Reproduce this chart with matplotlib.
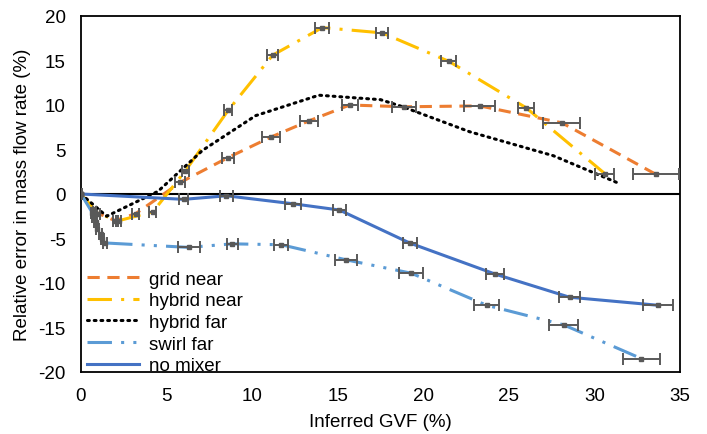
import matplotlib
matplotlib.use("Agg")
import matplotlib.pyplot as plt

plt.rcParams['font.family'] = ['Liberation Sans', 'DejaVu Sans']
plt.rcParams['axes.unicode_minus'] = False

# ---- data ----
grid_near_x = [0, 0.8, 2.0, 3.2, 5.8, 8.6, 11.1, 13.3, 15.7, 18.9, 23.3, 28.1, 33.6]
grid_near_y = [0, -2.0, -3.0, -2.2, 1.3, 4.1, 6.4, 8.2, 10.0, 9.8, 9.9, 8.0, 2.2]
grid_near_xerr = [0.05, 0.1, 0.15, 0.2, 0.3, 0.36, 0.5, 0.52, 0.47, 0.7, 0.9, 1.08, 1.35]

hybrid_near_x = [0, 1.0, 2.2, 4.2, 6.1, 8.6, 11.2, 14.1, 17.6, 21.5, 26.0, 30.6]
hybrid_near_y = [0, -2.2, -3.0, -2.0, 2.6, 9.4, 15.6, 18.7, 18.1, 14.9, 9.7, 2.3]
hybrid_near_xerr = [0.05, 0.1, 0.15, 0.2, 0.2, 0.25, 0.32, 0.41, 0.36, 0.44, 0.46, 0.55]

hybrid_far_x = [0, 1.5, 4.5, 7.1, 10.2, 13.9, 17.5, 18.8, 22.7, 27.6, 31.3]
hybrid_far_y = [0, -2.5, 0.3, 4.9, 8.8, 11.1, 10.6, 9.8, 7.0, 4.3, 1.3]

swirl_far_x = [0, 0.66, 0.76, 0.86, 0.95, 1.15, 1.25, 1.4, 6.3, 8.85, 11.7, 15.5, 19.3, 23.7, 28.2, 32.75]
swirl_far_y = [0, -2.1, -2.6, -3.2, -3.9, -4.5, -5.1, -5.5, -6.0, -5.6, -5.7, -7.4, -8.9, -12.5, -14.7, -18.5]
swirl_far_xerr = [0.05, 0.1, 0.1, 0.1, 0.1, 0.1, 0.1, 0.1, 0.63, 0.3, 0.4, 0.63, 0.69, 0.72, 0.86, 1.07]

no_mixer_x = [0, 6.0, 8.5, 12.4, 15.1, 19.2, 24.2, 28.55, 33.7]
no_mixer_y = [0, -0.6, -0.2, -1.1, -1.8, -5.5, -9.0, -11.6, -12.5]
no_mixer_xerr = [0.05, 0.25, 0.37, 0.47, 0.36, 0.41, 0.54, 0.61, 0.88]

x_ticks = [0, 5, 10, 15, 20, 25, 30, 35]
y_ticks = [-20, -15, -10, -5, 0, 5, 10, 15, 20]

# ---- plot ----
fig = plt.figure(figsize=(7.07, 4.35), dpi=100)
ax = fig.add_axes([81/707, 1-373/435, (680-81)/707, (373-17)/435])

lw = 2.2
ax.plot(grid_near_x, grid_near_y, color='#ED7D31', lw=lw, dashes=(4, 2.5), label='grid near', zorder=3)
ax.plot(hybrid_near_x, hybrid_near_y, color='#FFC000', lw=lw, dashes=(8, 3, 1, 3), label='hybrid near', zorder=3)
ax.plot(hybrid_far_x, hybrid_far_y, color='black', lw=lw, dashes=(0.6, 1.6), dash_capstyle='round',
        label='hybrid far', zorder=3)
ax.plot(swirl_far_x, swirl_far_y, color='#5B9BD5', lw=lw, dashes=(8, 3, 1, 3, 1, 3), label='swirl far', zorder=3)
ax.plot(no_mixer_x, no_mixer_y, color='#4472C4', lw=lw, label='no mixer', zorder=3)

ebkw = dict(fmt='s', color='#595959', ms=3.5, ecolor='#595959', elinewidth=1.4, capsize=4, capthick=1.4, zorder=4)
ax.errorbar(grid_near_x, grid_near_y, xerr=grid_near_xerr, **ebkw)
ax.errorbar(hybrid_near_x, hybrid_near_y, xerr=hybrid_near_xerr, **ebkw)
ax.errorbar(swirl_far_x, swirl_far_y, xerr=swirl_far_xerr, **ebkw)
ax.errorbar(no_mixer_x, no_mixer_y, xerr=no_mixer_xerr, **ebkw)

ax.axhline(0, color='black', lw=1.5, zorder=2)

ax.set_xlim(0, 35)
ax.set_ylim(-20, 20)
ax.set_xticks(x_ticks)
ax.set_yticks(y_ticks)
ax.tick_params(length=0, labelsize=13.5)
ax.tick_params(axis='y', pad=11)
ax.tick_params(axis='x', pad=11)
for s in ax.spines.values():
    s.set_color('black')
    s.set_linewidth(1.3)

ax.set_xlabel('Inferred GVF (%)', fontsize=13.5, labelpad=6)
ax.set_ylabel('Relative error in mass flow rate (%)', fontsize=13.5, labelpad=5)

leg = ax.legend(loc='lower left', frameon=False, fontsize=13.5, handlelength=2.8,
                labelspacing=0.24, handletextpad=0.5, borderaxespad=0.0, borderpad=0.15,
                bbox_to_anchor=(0.005, -0.014))

fig.savefig('out.png', dpi=100)
